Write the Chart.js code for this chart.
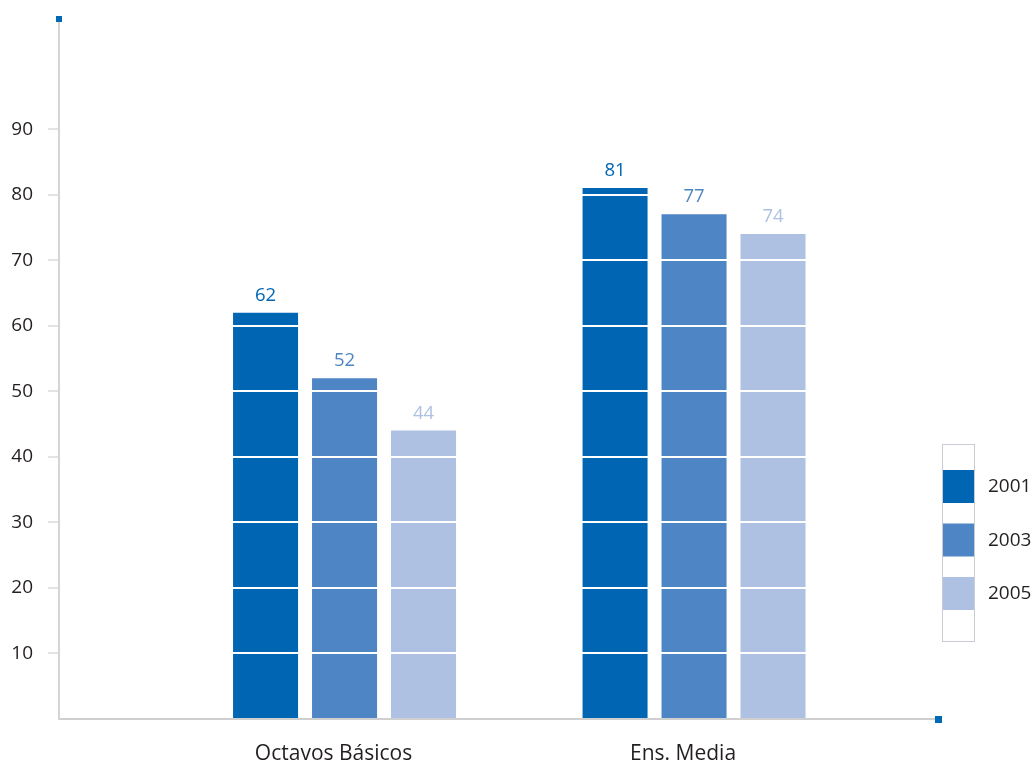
<!DOCTYPE html>
<html>
<head>
<meta charset="utf-8">
<script src="https://cdn.jsdelivr.net/npm/chart.js@4.4.1/dist/chart.umd.min.js"></script>
<style>
    html, body { margin: 0; padding: 0; background: #fff; }
    canvas { display: block; }
</style>
</head>
<body>
<canvas id="chart" width="1036" height="763"></canvas>
<script>
const categories = ['Octavos Básicos', 'Ens. Media'];
const years = ['2001', '2003', '2005'];
const values2001 = [62, 81];
const values2003 = [52, 77];
const values2005 = [44, 74];
const yTickLabels = [10, 20, 30, 40, 50, 60, 70, 80, 90];
const seriesColors = ['#0066b3', '#4e85c4', '#aec1e2'];

document.addEventListener('DOMContentLoaded', () => {
    Chart.defaults.font.family = '"Open Sans", sans-serif';
    Chart.defaults.color = '#231f20';

    const toPoints = values => values.map((v, i) => ({ x: i, y: v }));

    // value labels above each bar
    const barValues = {
        id: 'barValues',
        afterDraw(chart) {
            const ctx = chart.ctx;
            ctx.save();
            ctx.font = '18.5px "Open Sans"';
            ctx.textAlign = 'center';
            ctx.textBaseline = 'alphabetic';
            chart.data.datasets.forEach((ds, i) => {
                chart.getDatasetMeta(i).data.forEach((bar, j) => {
                    ctx.fillStyle = ds.backgroundColor;
                    ctx.fillText(ds.data[j].y, bar.x, bar.y - 12);
                });
            });
            ctx.restore();
        }
    };

    // small blue squares at the end of both axes
    const axisEnds = {
        id: 'axisEnds',
        afterDraw(chart) {
            const { ctx, chartArea: a } = chart;
            ctx.save();
            ctx.fillStyle = '#0068b4';
            ctx.fillRect(a.left - 3, a.top - 3, 6, 6);
            ctx.fillRect(a.right - 3, a.bottom - 3, 7, 7);
            ctx.restore();
        }
    };

    // framed column legend on the right
    const sideLegend = {
        id: 'sideLegend',
        afterDraw(chart) {
            const ctx = chart.ctx;
            const left = chart.chartArea.right + 5;
            ctx.save();
            ctx.strokeStyle = '#c9cdd3';
            ctx.lineWidth = 1;
            ctx.strokeRect(left - 0.5, 444.5, 32, 197);
            ctx.font = '19px "Open Sans"';
            ctx.textAlign = 'left';
            ctx.textBaseline = 'middle';
            chart.data.datasets.forEach((ds, i) => {
                const top = 470 + i * 53.5;
                ctx.fillStyle = ds.backgroundColor;
                ctx.fillRect(left, top, 31, 33);
                ctx.fillStyle = '#231f20';
                ctx.fillText(ds.label, left + 45, top + 17);
            });
            ctx.restore();
        }
    };

    const chart = document.querySelector('#chart').getContext('2d');
    new Chart(chart, {
        type: 'bar',
        data: {
            datasets: [
                { label: years[0], data: toPoints(values2001), backgroundColor: seriesColors[0] },
                { label: years[1], data: toPoints(values2003), backgroundColor: seriesColors[1] },
                { label: years[2], data: toPoints(values2005), backgroundColor: seriesColors[2] }
            ]
        },
        options: {
            responsive: false,
            animation: false,
            categoryPercentage: 0.678,
            barPercentage: 0.823,
            layout: { padding: { top: 19, right: 98, left: 0, bottom: 0 } },
            plugins: {
                legend: { display: false },
                tooltip: { enabled: false }
            },
            scales: {
                x: {
                    type: 'linear',
                    offset: false,
                    min: -0.817,
                    max: 1.698,
                    afterBuildTicks: scale => {
                        scale.ticks = categories.map((c, i) => ({ value: i }));
                    },
                    afterFit: scale => {
                        scale.height = 44;
                        scale.paddingLeft = 0;
                        scale.paddingRight = 0;
                    },
                    grid: { display: false, drawTicks: false, offset: false },
                    border: { color: '#cfcfcf', width: 2, z: 2 },
                    ticks: {
                        padding: 22,
                        labelOffset: -11,
                        maxRotation: 0,
                        font: { size: 21 },
                        callback: value => categories[value]
                    }
                },
                y: {
                    min: 0,
                    max: 106.8,
                    afterFit: scale => {
                        scale.width = 59;
                        scale.paddingTop = 0;
                        scale.paddingBottom = 0;
                    },
                    grid: {
                        z: 1,
                        lineWidth: 2,
                        tickLength: 11,
                        tickWidth: 1,
                        color: ctx => yTickLabels.includes(ctx.tick.value) ? '#ffffff' : 'rgba(0,0,0,0)',
                        tickColor: ctx => yTickLabels.includes(ctx.tick.value) ? '#c8c8c8' : 'rgba(0,0,0,0)'
                    },
                    border: { color: '#d4d4d4', width: 2, z: 2 },
                    ticks: {
                        stepSize: 10,
                        padding: 15,
                        font: { size: 19 },
                        callback: value => yTickLabels.includes(value) ? value : ''
                    }
                }
            }
        },
        plugins: [barValues, axisEnds, sideLegend]
    });
});
</script>
</body>
</html>
